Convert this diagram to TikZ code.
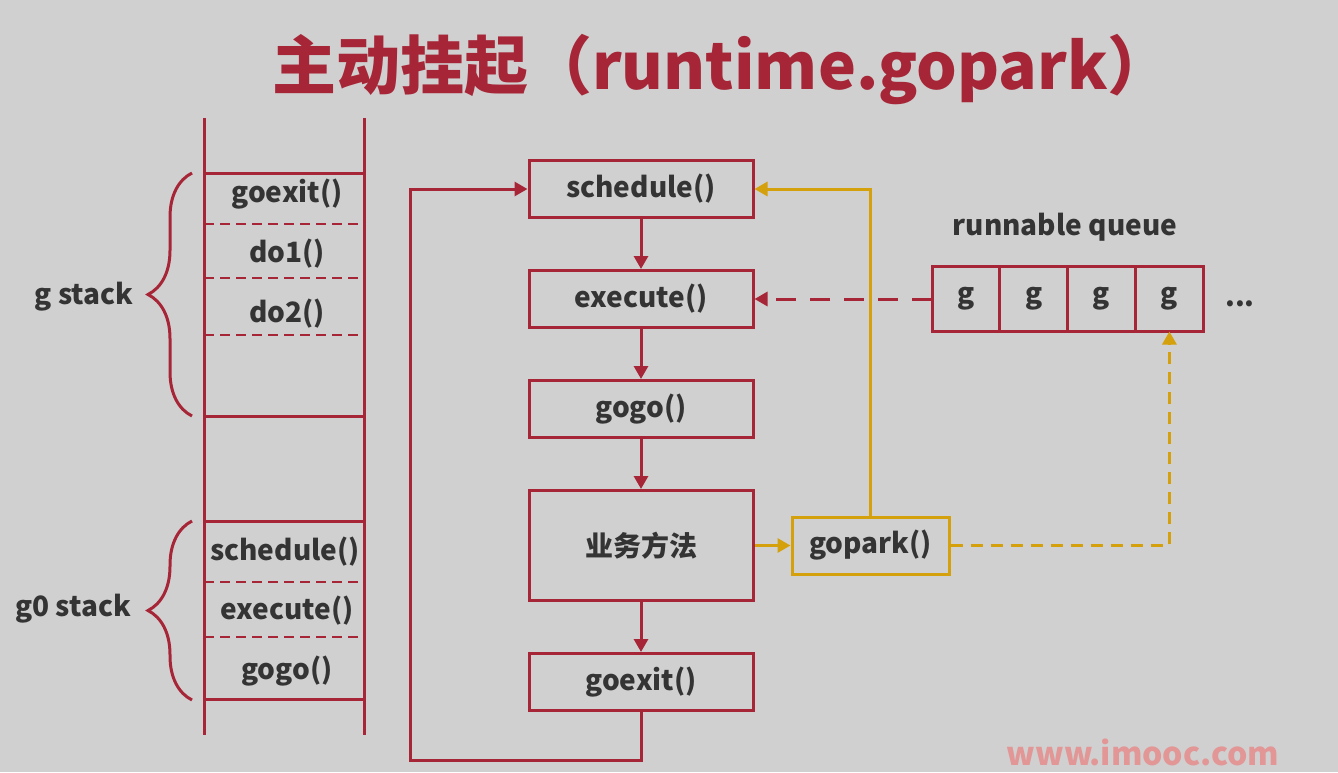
\documentclass[tikz,border=0pt]{standalone}
\usepackage{fontspec}
\setmainfont{Noto Sans CJK SC}
\usepackage{xcolor}
\usepackage{tikz}
\usetikzlibrary{positioning, arrows.meta, decorations.pathreplacing}
\definecolor{slide}{RGB}{208,208,208}
\definecolor{crim}{RGB}{166,38,56}
\definecolor{gold}{RGB}{212,160,12}
\definecolor{ink}{RGB}{52,52,52}
\definecolor{mark}{RGB}{226,150,150}
\tikzset{
  blk/.style={draw=crim, line width=1.5pt, minimum width=112pt, minimum height=28.5pt,
              text=ink, font=\bfseries\fontsize{14}{16}\selectfont},
  pblk/.style={blk, draw=gold, minimum width=78.5pt},
  cell/.style={draw=crim, line width=1.5pt, minimum width=33.9pt, minimum height=32.5pt,
               outer sep=0pt, text=ink, font=\bfseries\fontsize{14}{16}\selectfont},
  txt/.style={text=ink, font=\bfseries\fontsize{14}{16}\selectfont},
  wall/.style={crim, line width=1.5pt},
  sep/.style={crim, line width=1pt, dash pattern=on 5pt off 3pt},
  brc/.style={crim, line width=1.5pt, decorate, decoration={brace, amplitude=22pt}},
  flow/.style={crim, line width=1.5pt, -{Triangle[length=6.5pt,width=7pt]}},
  pflow/.style={flow, gold}
}
\begin{document}
\begin{tikzpicture}[x=0.5pt, y=-0.5pt, node distance=25pt]
  \fill[slide] (0,0) rectangle (1338,772);
  \useasboundingbox (0,0) rectangle (1338,772);

  \node[text=crim, font=\bfseries\fontsize{32}{36}\selectfont] (title) at (722,70) {主动挂起（runtime.gopark）};

  % stacks
  \draw[wall] (204,118) -- (204,735);
  \draw[wall] (364,118) -- (364,735);
  \foreach \y in {173,416,521,699} \draw[wall] (204,\y) -- (364,\y);
  \foreach \y in {224,278,335,582,637} \draw[sep] (204,\y) -- (364,\y);
  \node[txt] (s1) at (287,194) {goexit()};
  \node[txt] (s2) at (287,254) {do1()};
  \node[txt] (s3) at (287,314) {do2()};
  \node[txt] (s4) at (285,552) {schedule()};
  \node[txt] (s5) at (287,611) {execute()};
  \node[txt] (s6) at (287,671) {gogo()};
  \draw[brc] (192,416) -- (192,173);
  \draw[brc] (192,700) -- (192,521);
  \node[txt] (gstk) at (84,297) {g stack};
  \node[txt] (g0stk) at (73,609) {g0 stack};

  % flow
  \node[blk] (sched) at (641,189) {schedule()};
  \node[blk, below=of sched] (exec) {execute()};
  \node[blk, below=of exec] (gogo) {gogo()};
  \node[blk, below=of gogo, minimum height=55pt] (biz) {业务方法};
  \node[blk, below=of biz] (exit) {goexit()};
  \node[pblk, right=18pt of biz] (park) {gopark()};

  \draw[flow] (sched) -- (exec);
  \draw[flow] (exec) -- (gogo);
  \draw[flow] (gogo) -- (biz);
  \draw[flow] (biz) -- (exit);
  \draw[flow] (exit.south) |- (410,760) |- (sched.west);

  % runnable queue
  \node[txt] (qlbl) at (1065,227) {runnable queue};
  \node[cell] (q1) at (966,299) {g};
  \foreach \i [remember=\i as \j (initially 1)] in {2,3,4}
    \node[cell, right=0pt of q\j] (q\i) {g};
  \node[txt] (more) at (1240,304) {...};

  \draw[flow, dash pattern=on 10pt off 7pt] (q1.west) -- (exec.east);
  \draw[pflow] (biz.east) -- (park.west);
  \draw[pflow] (park.north) |- (sched.east);
  \draw[pflow, dash pattern=on 6pt off 4pt] (park.east) -| (q4.south);

  \node[text=mark, font=\bfseries\fontsize{16}{18}\selectfont] (site) at (1143,752) {www.imooc.com};
\end{tikzpicture}
\end{document}
